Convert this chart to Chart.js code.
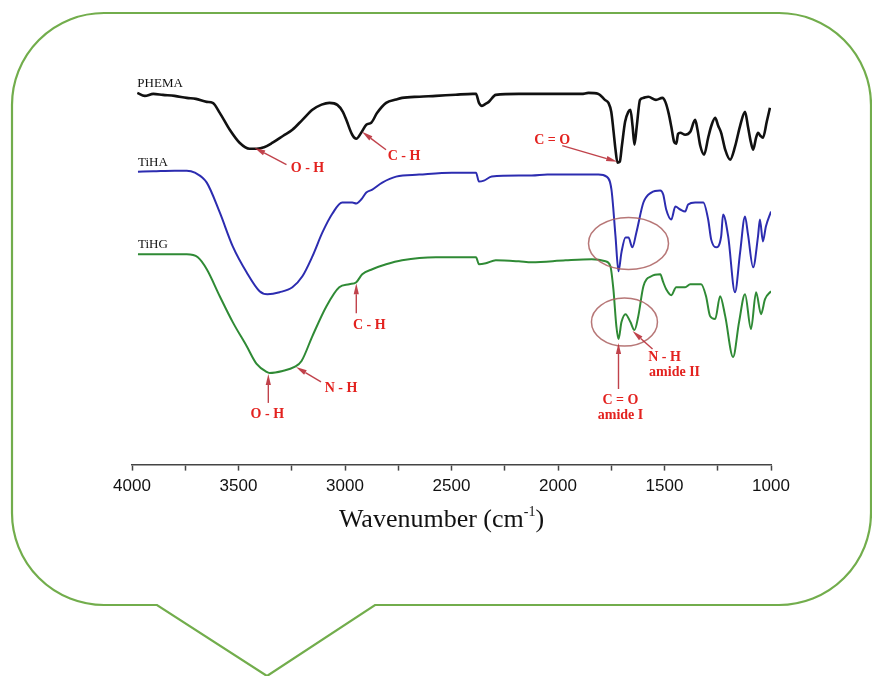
<!DOCTYPE html>
<html>
<head>
<meta charset="utf-8">
<script src="https://cdn.jsdelivr.net/npm/chart.js@4.4.1/dist/chart.umd.min.js"></script>
<style>
  html, body { margin: 0; padding: 0; background: #fff; }
  #ftir { display: block; }
</style>
</head>
<body>
<canvas id="ftir" width="872" height="676"></canvas>
<script>
// FTIR spectra, wavenumber (cm-1) and stacked transmittance (a.u.)
const phemaWn = [3975, 3940, 3900, 3855, 3800, 3743, 3700, 3649, 3621, 3588, 3541, 3495, 3448, 3415, 3380, 3340, 3290, 3247, 3200, 3153, 3110, 3073, 3036, 3010, 2994, 2966, 2947, 2924, 2900, 2877, 2849, 2807, 2760, 2732, 2650, 2573, 2480, 2400, 2385, 2371, 2357, 2340, 2325, 2292, 2184, 2050, 1950, 1889, 1857, 1810, 1780, 1763, 1750, 1740, 1730, 1721, 1710, 1700, 1685, 1670, 1660, 1650, 1641, 1630, 1615, 1599, 1576, 1540, 1510, 1496, 1480, 1468, 1455, 1445, 1436, 1426, 1403, 1379, 1356, 1345, 1332, 1314, 1295, 1280, 1262, 1248, 1234, 1215, 1192, 1169, 1145, 1122, 1108, 1095, 1084, 1070, 1061, 1050, 1038, 1020, 1005];
const phemaT = [93.25, 92.5, 93, 92.75, 92.5, 92, 91.75, 91, 90.75, 88.25, 84, 80.75, 79.25, 79.25, 79.6, 80.75, 82.5, 84, 86.5, 89, 90.3, 90.75, 90.25, 88.5, 86.5, 82.75, 81.75, 83.25, 85.25, 85.75, 88.25, 90.75, 91.6, 92, 92.3, 92.5, 92.8, 93, 93, 90.75, 90, 90.5, 91, 92.75, 93, 93, 93, 93, 93.25, 93, 91.5, 90.75, 88.5, 84, 79, 75.75, 76, 80, 86, 88.5, 89, 85, 80.25, 85, 91.5, 92, 92.3, 91.5, 92, 91, 88, 84.75, 81, 80.5, 83, 83.25, 82.75, 83.5, 86.5, 84, 80, 77.75, 82, 85, 87, 85, 83.25, 79, 76.5, 79.75, 85, 88.5, 84.75, 81, 79, 82, 83.25, 82.5, 82, 86, 89.5];

const tihaWn = [3972, 3900, 3800, 3743, 3705, 3649, 3588, 3527, 3462, 3401, 3364, 3307, 3247, 3200, 3153, 3106, 3059, 3013, 2966, 2947, 2924, 2900, 2872, 2825, 2760, 2652, 2498, 2385, 2371, 2348, 2311, 2184, 2123, 2050, 1964, 1810, 1772, 1749, 1730, 1716, 1702, 1683, 1669, 1651, 1632, 1599, 1562, 1520, 1506, 1492, 1468, 1449, 1426, 1403, 1389, 1356, 1318, 1295, 1281, 1258, 1234, 1225, 1201, 1169, 1145, 1122, 1108, 1084, 1061, 1052, 1038, 1024, 1000];
const tihaT = [73.5, 73.6, 73.75, 73.75, 73.25, 70.75, 63.25, 54.75, 48.25, 43.5, 42.75, 43.25, 44.5, 47.25, 52.25, 58.25, 63, 65.75, 65.75, 65.5, 66.5, 68.25, 69, 70.75, 72.25, 72.75, 73.25, 73.25, 71, 71.25, 72.25, 72.5, 72.5, 72.75, 72.75, 72.75, 72.25, 69, 57.25, 48.5, 53.25, 57, 57, 54.5, 58.25, 65.75, 68.25, 68.75, 67.75, 64, 61.5, 64.75, 64, 63.5, 65.25, 65.75, 65.75, 61.5, 56.5, 54.5, 57.25, 62.75, 57.25, 43.25, 53.25, 62.25, 57.75, 49.5, 57.25, 61.5, 56, 59.75, 63.5];

const tihgWn = [3972, 3743, 3691, 3649, 3588, 3527, 3462, 3415, 3368, 3354, 3293, 3237, 3204, 3153, 3087, 3027, 2980, 2947, 2919, 2872, 2807, 2732, 2573, 2385, 2371, 2339, 2292, 2184, 2123, 1964, 1842, 1777, 1754, 1740, 1726, 1716, 1702, 1683, 1660, 1641, 1623, 1599, 1562, 1520, 1506, 1492, 1468, 1445, 1403, 1379, 1328, 1305, 1286, 1262, 1239, 1215, 1178, 1150, 1122, 1094, 1070, 1047, 1028, 1000];
const tihgT = [52.75, 52.75, 52, 49, 42.25, 35.75, 29.75, 25.25, 23.25, 23, 23.5, 24.5, 26, 32.25, 39.75, 44.5, 45.25, 45.75, 47.75, 49, 50.25, 51.25, 52, 52, 50.25, 50.5, 51.25, 51, 50.75, 51.25, 51.5, 51, 49.75, 44, 34.75, 31.5, 35.75, 37.75, 35.75, 33.75, 37.25, 44.75, 47.25, 47.75, 45.75, 44, 42.5, 44.5, 44.5, 45.25, 45.25, 42.25, 37.25, 36.5, 42.25, 37.25, 27, 35.75, 42.75, 34, 43.25, 37.75, 41.5, 43.5];

const xTicks = [4000, 3500, 3000, 2500, 2000, 1500, 1000];

const RED = '#e3221f';
const ARROW = 'rgba(185, 45, 55, 0.9)';

// band assignments: tip on the spectrum, tail/label offsets in px
const bands = [
  { wn: 3425, t: 79.5, tail: [32, 17], lines: ['O - H'], at: [53, 21] },
  { wn: 2920, t: 83.5, tail: [24, 18], lines: ['C - H'], at: [42, 25] },
  { wn: 1722, t: 76, tail: [-55, -16], lines: ['C = O'], at: [-65, -21] },
  { wn: 2947, t: 45.5, tail: [0, 30], lines: ['C - H'], at: [13, 42] },
  { wn: 3360, t: 22.75, tail: [0, 29], lines: ['O - H'], at: [-1, 40] },
  { wn: 3230, t: 24.5, tail: [25, 15], lines: ['N - H'], at: [45, 21] },
  { wn: 1716, t: 30.5, tail: [0, 46], lines: ['C = O', 'amide I'], at: [2, 57] },
  { wn: 1650, t: 33.5, tail: [20, 18], lines: ['N - H', 'amide II'], at: [32, 26], shift: [0, 10] }
];

const rings = [
  { wn: 1669, t: 55.5, rx: 40, ry: 26 },
  { wn: 1688, t: 35.75, rx: 33, ry: 24 }
];

function points(wn, t) {
  return wn.map((w, i) => ({ x: w, y: t[i] }));
}

// speech-bubble frame behind the plot
const bubble = {
  id: 'bubble',
  beforeDraw(chart) {
    const c = chart.ctx;
    const r = 92;
    c.save();
    c.strokeStyle = '#72ad4c';
    c.lineWidth = 2.2;
    c.beginPath();
    c.moveTo(12 + r, 13);
    c.lineTo(871 - r, 13);
    c.arcTo(871, 13, 871, 13 + r, r);
    c.lineTo(871, 605 - r);
    c.arcTo(871, 605, 871 - r, 605, r);
    c.lineTo(375, 605);
    c.lineTo(267, 676);
    c.lineTo(157, 605);
    c.lineTo(12 + r, 605);
    c.arcTo(12, 605, 12, 605 - r, r);
    c.lineTo(12, 13 + r);
    c.arcTo(12, 13, 12 + r, 13, r);
    c.closePath();
    c.stroke();
    c.restore();
  }
};

function arrow(c, x0, y0, x1, y1) {
  const a = Math.atan2(y1 - y0, x1 - x0);
  const len = 11, half = 2.6;
  c.beginPath();
  c.moveTo(x0, y0);
  c.lineTo(x1 - Math.cos(a) * len, y1 - Math.sin(a) * len);
  c.stroke();
  c.beginPath();
  c.moveTo(x1, y1);
  c.lineTo(x1 - Math.cos(a) * len - Math.sin(a) * half, y1 - Math.sin(a) * len + Math.cos(a) * half);
  c.lineTo(x1 - Math.cos(a) * len + Math.sin(a) * half, y1 - Math.sin(a) * len - Math.cos(a) * half);
  c.closePath();
  c.fill();
}

const marks = {
  id: 'marks',
  afterDraw(chart) {
    const c = chart.ctx;
    const xs = chart.scales.x, ys = chart.scales.y;
    c.save();

    // spectrum names above each trace
    c.fillStyle = '#111';
    c.font = '13px "Liberation Serif", "Times New Roman", serif';
    c.textAlign = 'left';
    c.textBaseline = 'alphabetic';
    chart.data.datasets.forEach(ds => {
      const p = ds.data[0];
      c.fillText(ds.label, xs.getPixelForValue(p.x), ys.getPixelForValue(p.y) - 6);
    });

    // circled amide bands
    c.strokeStyle = 'rgba(170, 95, 95, 0.85)';
    c.lineWidth = 1.5;
    rings.forEach(r => {
      c.beginPath();
      c.ellipse(xs.getPixelForValue(r.wn), ys.getPixelForValue(r.t), r.rx, r.ry, 0, 0, Math.PI * 2);
      c.stroke();
    });

    // band arrows and labels
    c.strokeStyle = ARROW;
    c.fillStyle = ARROW;
    c.lineWidth = 1.4;
    bands.forEach(b => {
      const x = xs.getPixelForValue(b.wn), y = ys.getPixelForValue(b.t);
      arrow(c, x + b.tail[0], y + b.tail[1], x, y);
    });
    c.fillStyle = RED;
    c.font = 'bold 14px "Liberation Serif", "Times New Roman", serif';
    c.textBaseline = 'middle';
    bands.forEach(b => {
      const x = xs.getPixelForValue(b.wn), y = ys.getPixelForValue(b.t);
      b.lines.forEach((s, i) => {
        const dx = i > 0 && b.shift ? b.shift[0] + 10 : 0;
        c.textAlign = 'center';
        c.fillText(s, x + b.at[0] + dx, y + b.at[1] + i * 15);
      });
    });

    // axis title with superscript
    const cx = (xs.left + xs.right) / 2 - 10;
    const base = 527;
    const main = 'Wavenumber (cm', sup = '-1', close = ')';
    c.fillStyle = '#111';
    c.textBaseline = 'alphabetic';
    c.textAlign = 'left';
    c.font = '26px "Liberation Serif", "Times New Roman", serif';
    const w1 = c.measureText(main).width, w3 = c.measureText(close).width;
    c.font = '14px "Liberation Serif", "Times New Roman", serif';
    const w2 = c.measureText(sup).width;
    let x0 = cx - (w1 + w2 + w3) / 2;
    c.font = '26px "Liberation Serif", "Times New Roman", serif';
    c.fillText(main, x0, base);
    c.font = '14px "Liberation Serif", "Times New Roman", serif';
    c.fillText(sup, x0 + w1, base - 11);
    c.font = '26px "Liberation Serif", "Times New Roman", serif';
    c.fillText(close, x0 + w1 + w2, base);
    c.restore();
  }
};

new Chart(document.getElementById('ftir').getContext('2d'), {
  type: 'line',
  data: {
    datasets: [
      { label: 'PHEMA', data: points(phemaWn, phemaT), borderColor: '#111', borderWidth: 2.6 },
      { label: 'TiHA', data: points(tihaWn, tihaT), borderColor: '#2c2cb0', borderWidth: 2 },
      { label: 'TiHG', data: points(tihgWn, tihgT), borderColor: '#2f8a35', borderWidth: 2 }
    ]
  },
  options: {
    responsive: false,
    devicePixelRatio: 1,
    animation: false,
    elements: {
      point: { radius: 0 },
      line: { cubicInterpolationMode: 'monotone', fill: false }
    },
    layout: { padding: { left: 132, right: 101, top: 66, bottom: 173 } },
    plugins: { legend: { display: false }, tooltip: { enabled: false } },
    scales: {
      x: {
        type: 'linear',
        reverse: true,
        min: 1000,
        max: 4000,
        afterBuildTicks(axis) {
          axis.ticks = [];
          for (let v = 4000; v >= 1000; v -= 250) axis.ticks.push({ value: v });
        },
        ticks: {
          autoSkip: false,
          maxRotation: 0,
          padding: 6,
          color: '#111',
          font: { family: '"Liberation Sans", Arial, sans-serif', size: 17 },
          callback: v => xTicks.includes(v) ? String(v) : ''
        },
        grid: { drawOnChartArea: false, drawTicks: true, tickLength: 6, tickWidth: 1.5, tickColor: '#444' },
        border: { display: true, color: '#444', width: 1.6 }
      },
      y: { display: false, min: 0, max: 100 }
    }
  },
  plugins: [bubble, marks]
});
</script>
</body>
</html>
